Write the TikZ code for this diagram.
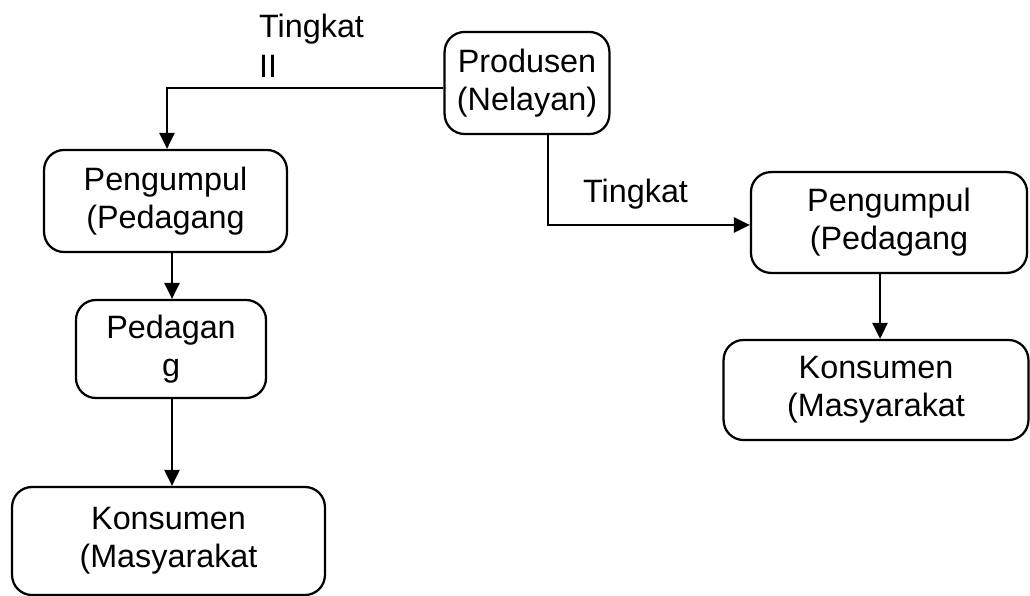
\documentclass[tikz,border=0pt]{standalone}
\usepackage{fontspec}
\setmainfont{Liberation Sans}
\usetikzlibrary{arrows.meta}
\begin{document}
\begin{tikzpicture}[x=0.025cm, y=-0.025cm, line width=1.6pt,
    main node/.style={draw, rounded corners=0.5cm, align=center, inner sep=0pt, font=\fontsize{23}{27}\selectfont},
    level label/.style={align=left, inner sep=0pt, font=\fontsize{23}{28.5}\selectfont},
    flow/.style={-{Triangle[length=0.4cm, width=0.38cm]}}]

    \useasboundingbox (0,0) rectangle (1030,596);

    % Top
    \node[main node, minimum width=4.12cm, minimum height=2.55cm] (P) at (527,83) {Produsen\\(Nelayan)};

    % Left chain
    \node[main node, minimum width=6.07cm, minimum height=2.55cm] (PL) at (165.5,201) {Pengumpul\\(Pedagang};
    \node[main node, minimum width=4.75cm, minimum height=2.45cm] (D) at (171,349) {Pedagan\\g};
    \node[main node, minimum width=7.82cm, minimum height=2.7cm] (KL) at (168.5,541) {Konsumen\\(Masyarakat};

    % Right chain
    \node[main node, minimum width=6.9cm, minimum height=2.52cm] (PR) at (889,222.5) {Pengumpul\\(Pedagang};
    \node[main node, minimum width=7.62cm, minimum height=2.5cm] (KR) at (876,390) {Konsumen\\(Masyarakat};

    \node[level label, anchor=north west] (T2) at (258,13) {Tingkat\\II};
    \node[level label, anchor=base west] (T1) at (582,203) {Tingkat};

    \draw[flow] (P.west |- 0,88) -| (PL.north -| 167,0);
    \draw[flow] (P.south -| 548,0) |- (PR.west |- 0,225);
    \draw[flow] (PL.south -| 172,0) -- (D.north -| 172,0);
    \draw[flow] (D.south -| 172,0) -- (KL.north -| 172,0);
    \draw[flow] (PR.south -| 880,0) -- (KR.north -| 880,0);

\end{tikzpicture}
\end{document}
